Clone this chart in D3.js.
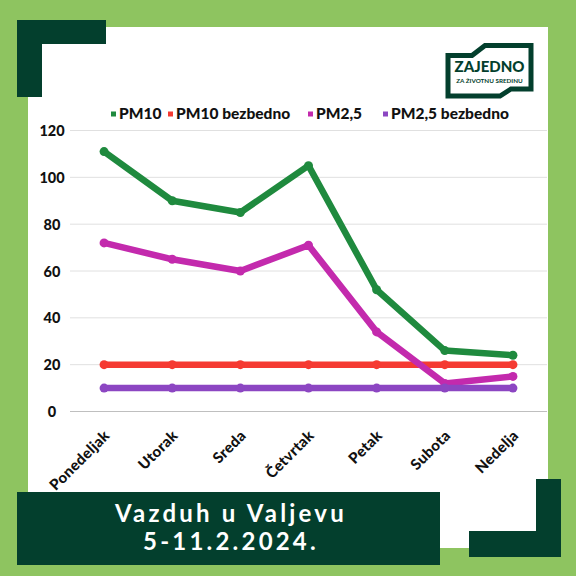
<!DOCTYPE html>
<html>
<head>
<meta charset="utf-8">
<script src="https://cdn.jsdelivr.net/npm/d3@7"></script>
<style>
  html, body { margin: 0; padding: 0; background: #8ec460; }
  svg { display: block; }
  text { font-family: Lato, "Open Sans", sans-serif; }
</style>
</head>
<body>
<svg id="chart" width="576" height="576"></svg>
<script>
const days = ["Ponedeljak", "Utorak", "Sreda", "Četvrtak", "Petak", "Subota", "Nedelja"];
const pm10 = [111, 90, 85, 105, 52, 26, 24];
const pm10Safe = [20, 20, 20, 20, 20, 20, 20];
const pm25 = [72, 65, 60, 71, 34, 12, 15];
const pm25Safe = [10, 10, 10, 10, 10, 10, 10];
const yTicks = [0, 20, 40, 60, 80, 100, 120];
const seriesNames = ["PM10", "PM10 bezbedno", "PM2,5", "PM2,5 bezbedno"];
const seriesColors = ["#1f8a3e", "#f53a32", "#c32aad", "#8c46c2"];
const titleLines = ["Vazduh u Valjevu", "5-11.2.2024."];

const series = [pm10, pm10Safe, pm25, pm25Safe].map((v, i) => ({ name: seriesNames[i], color: seriesColors[i], values: v }));

const svg = d3.select("#chart");
const dark = "#033f2d";

// background panels
svg.append("rect").attr("x", 0).attr("y", 0).attr("width", 576).attr("height", 576).attr("fill", "#8ec460");
svg.append("rect").attr("x", 28).attr("y", 27).attr("width", 520).attr("height", 521).attr("fill", "#ffffff");

// decorative corners
svg.append("path").attr("fill", dark)
  .attr("d", "M17,20 H106 V44 H42 V97 H17 Z");
svg.append("path").attr("fill", dark)
  .attr("d", "M536,479 H561 V557 H469 V531 H536 Z");

// logo
const logo = svg.append("g");
logo.append("path").attr("fill", "none").attr("stroke", dark).attr("stroke-width", 5)
  .attr("stroke-linejoin", "miter")
  .attr("d", "M472,55.5 H448 V96 H500 L511,89 H531 V45.5 H485 Z");
logo.append("text").attr("x", 489.5).attr("y", 72).attr("text-anchor", "middle")
  .attr("font-size", 15).attr("font-weight", 900).attr("fill", dark).text("ZAJEDNO");
logo.append("text").attr("x", 489.5).attr("y", 82.5).attr("text-anchor", "middle")
  .attr("font-size", 6.3).attr("font-weight", 700).attr("fill", dark).text("ZA ŽIVOTNU SREDINU");

// scales
const x = d3.scalePoint().domain(days).range([70, 547]).padding(0.5);
const y = d3.scaleLinear().domain([0, 120]).range([411.5, 130.5]);

// gridlines
const grid = svg.append("g");
grid.selectAll("line").data(yTicks).join("line")
  .attr("x1", 70).attr("x2", 547)
  .attr("y1", d => y(d)).attr("y2", d => y(d))
  .attr("stroke", d => d === 0 ? "#bfbfbf" : "#e0e0e0").attr("stroke-width", 1);

// y axis labels
const yAxis = d3.axisLeft(y).tickValues(yTicks).tickSize(0).tickPadding(0);
const yg = svg.append("g").attr("transform", "translate(52,0)").call(yAxis);
yg.select(".domain").remove();
yg.selectAll("text").attr("text-anchor", "middle").attr("font-size", 14.5).attr("font-weight", 900)
  .attr("fill", "#111").attr("font-family", "Lato, sans-serif").attr("dy", "0.35em").attr("x", 0);

// x axis labels
const xAxis = d3.axisBottom(x).tickSize(0).tickPadding(0);
const xg = svg.append("g").attr("transform", "translate(0,411.5)").call(xAxis);
xg.select(".domain").remove();
xg.selectAll("text").attr("text-anchor", "end").attr("font-size", 15).attr("font-weight", 900)
  .attr("fill", "#111").attr("font-family", "Lato, sans-serif").attr("y", 0).attr("dy", 0)
  .attr("letter-spacing", 0.3)
  .attr("transform", "translate(6,25) rotate(-45)");

// lines
const line = d3.line().x((d, i) => x(days[i])).y(d => y(d));
const sg = svg.append("g").selectAll("g").data(series).join("g");
sg.append("path").attr("fill", "none").attr("stroke", d => d.color).attr("stroke-width", 6.5)
  .attr("stroke-linejoin", "round").attr("d", d => line(d.values));
sg.selectAll("circle").data(d => d.values.map((v, i) => ({ v, i, c: d.color }))).join("circle")
  .attr("cx", d => x(days[d.i])).attr("cy", d => y(d.v)).attr("r", 4.5).attr("fill", d => d.c);

// legend
const legendX = [111, 168, 308, 383];
const lg = svg.append("g").selectAll("g").data(series).join("g")
  .attr("transform", (d, i) => `translate(${legendX[i]},114)`);
lg.append("rect").attr("x", 0).attr("y", -2.5).attr("width", 5).attr("height", 5).attr("fill", d => d.color);
lg.append("text").attr("x", 8).attr("y", 0).attr("dy", "0.35em").attr("font-size", 15.5).attr("font-weight", 900)
  .attr("fill", "#111").text(d => d.name);

// title banner
svg.append("rect").attr("x", 17).attr("y", 492).attr("width", 423).attr("height", 73).attr("fill", dark);
svg.append("g").selectAll("text").data(titleLines).join("text")
  .attr("x", 231).attr("y", (d, i) => 522 + i * 28).attr("text-anchor", "middle")
  .attr("font-size", 24).attr("font-weight", 700).attr("letter-spacing", 3.2)
  .attr("fill", "#ffffff").text(d => d);
</script>
</body>
</html>
